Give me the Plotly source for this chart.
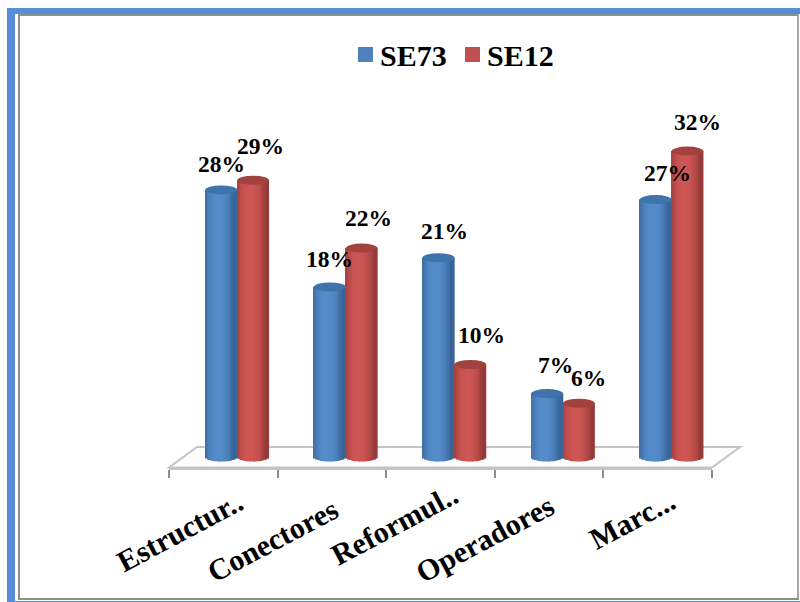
import math
import plotly.graph_objects as go

# Chart data
categories = ["Estructur..", "Conectores", "Reformul..", "Operadores", "Marc..."]
se73 = [28, 18, 21, 7, 27]
se12 = [29, 22, 10, 6, 32]

W, H = 800, 602
FONT = "Liberation Serif"

# Plot-area box on the canvas, in pixels
PLOT_L, PLOT_R, PLOT_T, PLOT_B = 169, 712, 60, 467.7
PX_PER_UNIT = 9.7
ZERO_LIFT = 6.2  # the cylinders stand on a raised floor
Y_MIN = -ZERO_LIFT / PX_PER_UNIT
Y_MAX = (PLOT_B - ZERO_LIFT - PLOT_T) / PX_PER_UNIT


def px_x(x):
    return x / W


def px_y(y):
    return 1 - y / H


def mix(c1, c2, t):
    return "rgb({},{},{})".format(*[round(a + (b - a) * t) for a, b in zip(c1, c2)])


# Cylinder geometry, as fractions of a category
SERIES = [
    dict(name="SE73", values=se73, start=-0.166, end=0.129, mid=(84, 140, 202),
         edge=(56, 100, 152), cap="#3f73ab", swatch="#4f81bd"),
    dict(name="SE12", values=se12, start=0.129, end=0.42, mid=(206, 86, 84),
         edge=(150, 58, 56), cap="#a2423f", swatch="#c0504d"),
]
STRIPS = 18
CAP_RY = 4.5 / PX_PER_UNIT

fig = go.Figure()
shapes = []
xs = list(range(len(categories)))

for s in SERIES:
    width = (s["end"] - s["start"]) / STRIPS
    for k in range(STRIPS):
        u = -1 + (2 * k + 1) / STRIPS
        # light sits a little left of the axis of the cylinder
        shade = min(1, abs(u + 0.15) / 0.95) ** 2.2
        # the foot of each strip follows the rounded base of the cylinder
        foot = CAP_RY * (1 - math.sqrt(max(0, 1 - u * u)))
        fig.add_trace(go.Bar(
            x=xs,
            y=[v - foot for v in s["values"]],
            base=[foot] * len(xs),
            offset=s["start"] + k * width,
            width=width * 1.08,
            marker=dict(color=mix(s["mid"], s["edge"], shade), line_width=0),
            showlegend=False,
            hoverinfo="skip",
        ))
    for i, v in enumerate(s["values"]):
        shapes.append(dict(
            type="circle", xref="x", yref="y", layer="above",
            x0=i + s["start"], x1=i + s["end"],
            y0=v - CAP_RY, y1=v + CAP_RY,
            fillcolor=s["cap"], line_width=0,
        ))

# Page frame: blue rule and thin grey box
BLUE = "#558ed5"
GREY = "#8f8f8f"
for x0, y0, x1, y1, col in [
    (7, 8, 15, 602, BLUE), (7, 8, 800, 14, BLUE), (15, 601, 800, 602, BLUE),
    (18, 14, 20, 600, GREY), (18, 14, 799, 16, GREY),
    (797, 14, 799, 600, "#a6a6a6"), (18, 598, 799, 600, GREY),
]:
    shapes.append(dict(type="rect", xref="paper", yref="paper", layer="below",
                       x0=px_x(x0), x1=px_x(x1), y0=px_y(y0), y1=px_y(y1),
                       fillcolor=col, line_width=0))

# Floor of the pseudo-3D plot
floor = [(169, 467.5), (197, 447), (740, 447), (712, 467.5)]
path = "M " + " L ".join(f"{px_x(a):.5f},{px_y(b):.5f}" for a, b in floor) + " Z"
shapes.append(dict(type="path", xref="paper", yref="paper", layer="below", path=path,
                   fillcolor="#fdfdfd", line=dict(color="#c4c4c4", width=2)))

annotations = []

# Legend row: colour keys with bold series names
LEGEND_KEYS = [(358, 380), (465, 487)]
for s, (key_x, text_x) in zip(SERIES, LEGEND_KEYS):
    shapes.append(dict(type="rect", xref="paper", yref="paper",
                       x0=px_x(key_x), x1=px_x(key_x + 15), y0=px_y(47), y1=px_y(62),
                       fillcolor=s["swatch"], line_width=0))
    annotations.append(dict(
        x=px_x(text_x), y=px_y(55.5), xref="paper", yref="paper", text=f"<b>{s['name']}</b>",
        showarrow=False, xanchor="left", yanchor="middle", borderpad=0, borderwidth=0,
        font=dict(family=FONT, size=30, color="black"),
    ))

# Value labels, nudged off the cylinders in pixels
LABEL_SHIFT = {
    "SE73": [(0.5, 26), (0, 28), (6, 27), (8, 29), (12, 27)],
    "SE12": [(7, 34), (7, 30), (11, 30), (10, 25), (10, 29)],
}
for s in SERIES:
    centre = (s["start"] + s["end"]) / 2
    for i, v in enumerate(s["values"]):
        dx, dy = LABEL_SHIFT[s["name"]][i]
        annotations.append(dict(
            x=i + centre, y=v, xref="x", yref="y", text=f"<b>{v}%</b>", showarrow=False,
            xshift=dx, yshift=dy, font=dict(family=FONT, size=23.5, color="black"),
        ))

# Slanted category labels, centred by hand under each group
TICK_CENTRES = [(179, 531), (272, 540), (394, 524), (485, 538), (632, 519)]
for cat, (cx, cy) in zip(categories, TICK_CENTRES):
    annotations.append(dict(
        x=px_x(cx), y=px_y(cy), xref="paper", yref="paper", text=f"<b>{cat}</b>",
        showarrow=False, textangle=-28, xanchor="center", yanchor="middle",
        font=dict(family=FONT, size=30, color="black"),
    ))

# Tick marks sit on the category boundaries
boundaries = [i - 0.5 for i in range(len(categories) + 1)]

fig.update_layout(
    width=W, height=H, autosize=False,
    margin=dict(l=0, r=0, t=0, b=0),
    paper_bgcolor="white", plot_bgcolor="rgba(0,0,0,0)",
    barmode="overlay", shapes=shapes, annotations=annotations,
    font=dict(family=FONT, color="black"),
    showlegend=False,
    xaxis=dict(
        domain=[px_x(PLOT_L), px_x(PLOT_R)], range=[-0.5, len(categories) - 0.5],
        tickmode="array", tickvals=boundaries, ticktext=[""] * len(boundaries),
        ticks="outside", ticklen=8, tickwidth=1.5, tickcolor="#8c8c8c",
        showgrid=False, zeroline=False, showline=True, linecolor="#c4c4c4", linewidth=2,
    ),
    yaxis=dict(
        domain=[px_y(PLOT_B), px_y(PLOT_T)], range=[Y_MIN, Y_MAX],
        visible=False, showgrid=False, zeroline=False,
    ),
)

fig.write_html("out.html", config=dict(displayModeBar=False))
